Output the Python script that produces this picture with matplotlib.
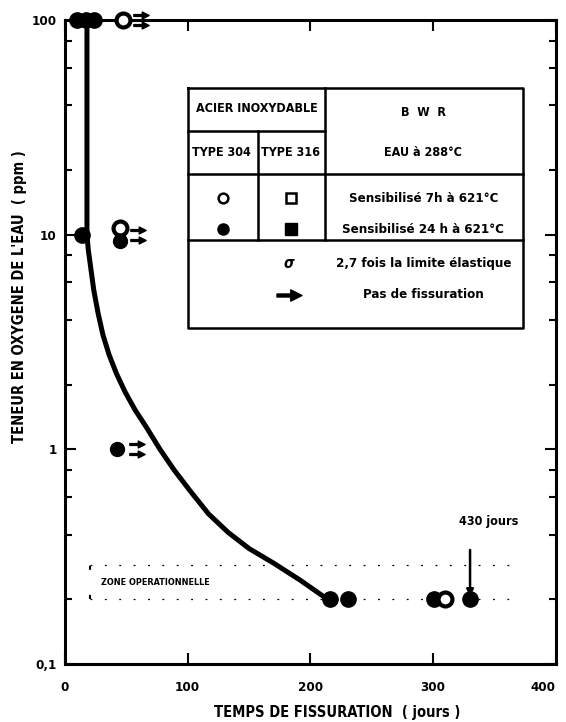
import numpy as np
import matplotlib.pyplot as plt
from matplotlib.path import Path
from matplotlib import transforms

plt.rcParams['font.family'] = ['Liberation Sans Narrow', 'DejaVu Sans']
plt.rcParams['font.weight'] = 'bold'
plt.rcParams['font.stretch'] = 'condensed'
plt.rcParams['axes.labelweight'] = 'bold'

# courbe de fissuration (jours, ppm O2)
curve_days = [17.9, 17.9, 19, 21, 23.5, 27, 31, 36, 42, 49, 57, 67, 77.4, 89, 102, 117,
              133, 150, 170, 192, 214]
curve_ppm = [100, 10, 8.5, 7, 5.5, 4.3, 3.4, 2.75, 2.25, 1.85, 1.53, 1.25, 1.0, 0.8, 0.64,
             0.5, 0.41, 0.345, 0.295, 0.245, 0.2]

# eprouvettes fissurees (type 304 sensibilise 24 h)
cracked_days = [10, 17, 24, 13.8, 216, 230.5, 301, 330]
cracked_ppm = [100, 100, 100, 10, 0.2, 0.2, 0.2, 0.2]

# eprouvettes sensibilisees 7 h
open_days = [47, 45, 309.6]
open_ppm = [100, 10.7, 0.2]

# eprouvettes non fissurees
nocrack_days = [45, 42.5]
nocrack_ppm = [9.3, 1]
arrow_days = [62, 59.5, 58.5]
arrow_ppm = [100, 10, 1]

zone_ppm = [0.2, 0.29]
zone_days = [20, 362]
long_test = (330, 0.2)  # 430 jours

y_ticks = [0.1, 1, 10, 100]
y_labels = ['0,1', '1', '10', '100']
x_ticks = [0, 100, 200, 300, 400]

fig = plt.figure(figsize=(5.66, 7.22), dpi=100)
ax = fig.add_axes([0.1148, 0.0803, 0.8675, 0.892])
ax.set_yscale('log')
ax.set_xlim(0, 400)
ax.set_ylim(0.1, 100)

# marqueur "pas de fissuration"
arrow_mk = Path([(-1, -0.12), (0.1, -0.12), (0.1, -0.45), (1, 0), (0.1, 0.45),
                 (0.1, 0.12), (-1, 0.12), (-1, -0.12)],
                [Path.MOVETO] + [Path.LINETO] * 6 + [Path.CLOSEPOLY])

ax.plot(curve_days, curve_ppm, color='black', lw=3.6, solid_capstyle='round',
        solid_joinstyle='round', clip_on=False, zorder=3)
ax.plot(cracked_days, cracked_ppm, 'o', color='black', ms=11, clip_on=False, zorder=4)
ax.plot(open_days, open_ppm, 'o', mfc='white', mec='black', mew=3, ms=10, clip_on=False, zorder=4)
ax.plot(nocrack_days, nocrack_ppm, 'o', color='black', ms=10, clip_on=False, zorder=4)
for dy in (3.5, -3.5):
    tr = transforms.offset_copy(ax.transData, fig=fig, x=0, y=dy, units='points')
    ax.plot(arrow_days, arrow_ppm, ls='none', marker=arrow_mk, ms=11, color='black',
            transform=tr, clip_on=False)

# zone operationnelle
for z in zone_ppm:
    ax.plot(zone_days, [z, z], color='black', lw=0.9, ls=(0, (1.5, 10)))
ax.plot([zone_days[0], zone_days[0]], zone_ppm, color='black', lw=1.5, ls=(0, (2, 12)))
ax.text(29, 0.24, 'ZONE OPERATIONNELLE', fontsize=6.5, va='center', ha='left')

ax.annotate('', xy=long_test, xytext=(long_test[0], 0.35),
            arrowprops=dict(arrowstyle='-|>', lw=1.8, color='black', mutation_scale=10))
ax.text(345, 0.46, '430 jours', fontsize=9, ha='center', va='center')

# axes
for s in ax.spines.values():
    s.set_linewidth(2.2)
ax.set_yticks(y_ticks)
ax.set_yticklabels(y_labels)
ax.set_yticks([v * m for v in (0.1, 1, 10) for m in (2, 4, 6, 8)], minor=True)
ax.yaxis.set_minor_formatter(plt.NullFormatter())
ax.set_xticks(x_ticks)
ax.tick_params(which='both', direction='in', top=True, right=True, labelsize=9.5, width=1.5)
ax.tick_params(which='major', length=8, pad=6)
ax.tick_params(which='minor', length=5)
ax.tick_params(axis='x', which='major', pad=12)
ax.get_xticklabels()[-1].set_ha('right')
ax.set_xlabel('TEMPS DE FISSURATION  ( jours )', fontsize=10.5)
ax.xaxis.set_label_coords(0.555, -0.063)
ax.set_ylabel("TENEUR EN OXYGENE DE L'EAU  ( ppm )", fontsize=10.5)
ax.yaxis.set_label_coords(-0.078, 0.57)

# tableau de legende
tk = dict(transform=ax.transAxes, color='black', lw=1.8, clip_on=False)
L, R, M, T304 = 0.2515, 0.933, 0.529, 0.3935
TOP, Y1, Y2, Y3, BOT = 0.895, 0.828, 0.761, 0.659, 0.522
ax.plot([L, R, R, L, L], [TOP, TOP, BOT, BOT, TOP], **tk)
ax.plot([M, M], [TOP, Y3], **tk)
ax.plot([L, M], [Y1, Y1], **tk)
ax.plot([T304, T304], [Y1, Y3], **tk)
ax.plot([L, R], [Y2, Y2], **tk)
ax.plot([L, R], [Y3, Y3], **tk)

tt = dict(transform=ax.transAxes, ha='center', va='center', fontsize=9)
ax.text((L + M) / 2, 0.8625, 'ACIER INOXYDABLE', **tt)
ax.text(0.73, 0.857, 'B  W  R', **tt)
ax.text(0.318, 0.794, 'TYPE 304', **tt)
ax.text(0.460, 0.794, 'TYPE 316', **tt)
ax.text(0.73, 0.794, 'EAU à 288°C', **tt)
tr_ = dict(transform=ax.transAxes, ha='center', va='center', fontsize=9.5)
ax.text(0.73, 0.723, 'Sensibilisé 7h à 621°C', **tr_)
ax.text(0.73, 0.675, 'Sensibilisé 24 h à 621°C', **tr_)
ax.text(0.73, 0.622, '2,7 fois la limite élastique', **tr_)
ax.text(0.73, 0.573, 'Pas de fissuration', **tr_)
ax.text(0.456, 0.622, 'σ', transform=ax.transAxes, ha='center', va='center',
        fontsize=11, style='italic', family='DejaVu Sans')

mk = dict(transform=ax.transAxes, clip_on=False, color='black', ls='none')
ax.plot([0.322], [0.723], marker='o', mfc='white', mew=1.8, ms=7, **mk)
ax.plot([0.460], [0.723], marker='s', mfc='white', mew=1.8, ms=7, **mk)
ax.plot([0.322], [0.675], marker='o', ms=8, **mk)
ax.plot([0.460], [0.675], marker='s', ms=8, **mk)
ax.plot([0.456], [0.573], marker=arrow_mk, ms=18, **mk)

fig.savefig('out.png', dpi=100)
